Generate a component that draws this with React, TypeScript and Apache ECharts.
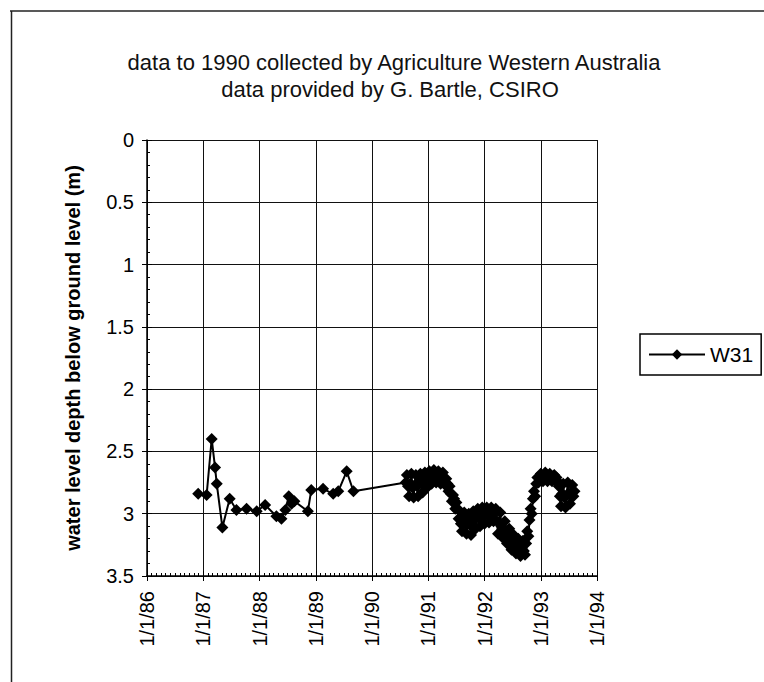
import React, { useEffect, useRef } from "react";
import * as echarts from "echarts";

const titleLine1 = "data to 1990 collected by Agriculture Western Australia";
const titleLine2 = "data provided by G. Bartle, CSIRO";
const yAxisName = "water level depth below ground level (m)";
const seriesName = "W31";

// x axis: decimal years, ticks labelled 1/1/yy
const xMin = 1986;
const xMax = 1994;
const yMin = 0;
const yMax = 3.5;

// manual readings 1986-1990 (decimal year, depth in m)
const manualYears = [
  1986.91, 1987.06, 1987.15, 1987.21, 1987.24, 1987.34, 1987.47, 1987.59,
  1987.77, 1987.95, 1988.1, 1988.3, 1988.39, 1988.46, 1988.52, 1988.57,
  1988.62, 1988.86, 1988.92, 1989.13, 1989.31, 1989.4, 1989.55, 1989.67,
];
const manualDepths = [
  2.84, 2.85, 2.4, 2.63, 2.76, 3.11, 2.88, 2.97,
  2.96, 2.98, 2.93, 3.02, 3.04, 2.97, 2.86, 2.92,
  2.9, 2.98, 2.81, 2.8, 2.84, 2.82, 2.66, 2.82,
];

// frequent readings 1990-1993
const loggerYears = [
  1990.6, 1990.62, 1990.64, 1990.66, 1990.68, 1990.7, 1990.72, 1990.74, 1990.76, 1990.78,
  1990.8, 1990.82, 1990.84, 1990.86, 1990.88, 1990.9, 1990.92, 1990.94, 1990.96, 1990.98,
  1991.0, 1991.02, 1991.04, 1991.06, 1991.08, 1991.1, 1991.12, 1991.14, 1991.16, 1991.18,
  1991.2, 1991.22, 1991.24, 1991.26, 1991.28, 1991.3, 1991.32, 1991.34, 1991.36, 1991.38,
  1991.4, 1991.42, 1991.44, 1991.46, 1991.48, 1991.5, 1991.52, 1991.54, 1991.56, 1991.58,
  1991.6, 1991.62, 1991.64, 1991.66, 1991.68, 1991.7, 1991.72, 1991.74, 1991.76, 1991.78,
  1991.8, 1991.82, 1991.84, 1991.86, 1991.88, 1991.9, 1991.92, 1991.94, 1991.96, 1991.98,
  1992.0, 1992.02, 1992.04, 1992.06, 1992.08, 1992.1, 1992.12, 1992.14, 1992.16, 1992.18,
  1992.2, 1992.22, 1992.24, 1992.26, 1992.28, 1992.3, 1992.32, 1992.34, 1992.36, 1992.38,
  1992.4, 1992.42, 1992.44, 1992.46, 1992.48, 1992.5, 1992.52, 1992.54, 1992.56, 1992.58,
  1992.6, 1992.62, 1992.64, 1992.66, 1992.68, 1992.7, 1992.72, 1992.74, 1992.76, 1992.78,
  1992.8, 1992.82, 1992.84, 1992.86, 1992.88, 1992.9, 1992.92, 1992.94, 1992.96, 1992.98,
  1993.0, 1993.02, 1993.04, 1993.06, 1993.08, 1993.1, 1993.12, 1993.14, 1993.16, 1993.18,
  1993.2, 1993.22, 1993.24, 1993.26, 1993.28, 1993.3, 1993.32, 1993.34, 1993.36, 1993.38,
  1993.4, 1993.42, 1993.44, 1993.46, 1993.48, 1993.5, 1993.52, 1993.54, 1993.56, 1993.58,
  1993.6,
];
const loggerDepths = [
  2.75, 2.69, 2.78, 2.86, 2.76, 2.68, 2.79, 2.87, 2.77, 2.69,
  2.78, 2.86, 2.75, 2.68, 2.76, 2.83, 2.74, 2.67, 2.73, 2.79,
  2.71, 2.66, 2.72, 2.76, 2.7, 2.65, 2.71, 2.75, 2.69, 2.66,
  2.72, 2.76, 2.7, 2.67, 2.73, 2.77, 2.72, 2.76, 2.82, 2.78,
  2.84, 2.9, 2.85, 2.88, 2.96, 2.91, 2.96, 3.04, 2.98, 3.08,
  3.14, 3.04, 2.99, 3.08, 3.16, 3.07, 3.0, 3.09, 3.17, 3.06,
  2.98, 3.05, 3.12, 3.03, 2.96, 3.03, 3.1, 3.02, 2.95, 3.01,
  3.08, 3.01, 2.95, 3.0, 3.07, 3.0, 2.95, 3.01, 3.06, 2.99,
  2.96, 3.06, 3.16, 3.07, 2.99, 3.1, 3.19, 3.12, 3.06, 3.15,
  3.24, 3.17, 3.12, 3.21, 3.29, 3.22, 3.17, 3.25, 3.32, 3.26,
  3.2, 3.28, 3.34, 3.28, 3.22, 3.3, 3.33, 3.24, 3.14, 3.18,
  3.05, 2.96, 3.0, 2.88, 2.82, 2.86, 2.76, 2.71, 2.75, 2.7,
  2.68, 2.72, 2.74, 2.69, 2.67, 2.71, 2.74, 2.7, 2.68, 2.72,
  2.74, 2.7, 2.69, 2.73, 2.71, 2.74, 2.78, 2.86, 2.94, 2.84,
  2.76, 2.87, 2.95, 2.85, 2.75, 2.84, 2.92, 2.83, 2.77, 2.86,
  2.82,
];

const FONT = "'Liberation Sans', Arial, sans-serif";

export default function App() {
  const ref = useRef<HTMLDivElement>(null);

  useEffect(() => {
    if (!ref.current) return;
    const chart = echarts.init(ref.current, null, { renderer: "svg" });

    const years = [...manualYears, ...loggerYears];
    const depths = [...manualDepths, ...loggerDepths];
    const data = years.map((y, i) => [y, depths[i]]);

    const xFmt = (v: number) => `1/1/${String(Math.round(v)).slice(2)}`;

    const option: any = {
      animation: false,
      backgroundColor: "#ffffff",
      textStyle: { fontFamily: FONT, color: "#000" },
      grid: { left: 147, right: 167, top: 140, bottom: 106, containLabel: false },
      graphic: [
        {
          type: "line",
          shape: { x1: 11.5, y1: 11, x2: 11.5, y2: 682 },
          style: { stroke: "#222", lineWidth: 1.5 },
        },
        {
          type: "line",
          shape: { x1: 10, y1: 11, x2: 764, y2: 11 },
          style: { stroke: "#222", lineWidth: 1.5 },
        },
        {
          type: "text",
          x: 394,
          y: 62,
          style: {
            text: titleLine1,
            align: "center",
            verticalAlign: "middle",
            fontSize: 22,
            fontFamily: FONT,
            fill: "#111",
          },
        },
        {
          type: "text",
          x: 390,
          y: 89,
          style: {
            text: titleLine2,
            align: "center",
            verticalAlign: "middle",
            fontSize: 22,
            fontFamily: FONT,
            fill: "#111",
          },
        },
      ],
      legend: {
        data: [seriesName],
        left: 640,
        top: 334,
        orient: "vertical",
        itemWidth: 56,
        itemHeight: 13,
        padding: [10, 8, 10, 8],
        borderColor: "#000",
        borderWidth: 1.5,
        borderRadius: 0,
        textStyle: { fontSize: 21, color: "#000", fontFamily: FONT },
      },
      xAxis: [
        {
          type: "value",
          min: xMin,
          max: xMax,
          interval: 1,
          axisLine: { show: true, onZero: false, lineStyle: { color: "#000", width: 1.5 } },
          axisTick: { show: true, inside: false, length: 5, lineStyle: { color: "#000" } },
          axisLabel: { rotate: 90, fontSize: 20, color: "#000", margin: 15, formatter: xFmt },
          splitLine: { show: true, lineStyle: { color: "#111", width: 1 } },
        },
        {
          type: "value",
          min: xMin,
          max: xMax,
          interval: 1,
          position: "bottom",
          axisLine: { show: false, onZero: false },
          axisTick: { show: true, inside: true, length: 5, lineStyle: { color: "#000" } },
          minorTick: { show: true, splitNumber: 12, length: 3, lineStyle: { color: "#000" } },
          axisLabel: { show: false },
          splitLine: { show: false },
        },
      ],
      yAxis: [
        {
          type: "value",
          inverse: true,
          min: yMin,
          max: yMax,
          interval: 0.5,
          name: yAxisName,
          nameLocation: "middle",
          nameGap: 64,
          nameRotate: 90,
          nameTextStyle: { fontSize: 20, fontWeight: "bold", color: "#000", fontFamily: FONT },
          axisLine: { show: true, onZero: false, lineStyle: { color: "#000", width: 1.5 } },
          axisTick: { show: true, inside: false, length: 5, lineStyle: { color: "#000" } },
          axisLabel: { fontSize: 20, color: "#000", margin: 13 },
          splitLine: { show: true, lineStyle: { color: "#111", width: 1 } },
        },
        {
          type: "value",
          inverse: true,
          min: yMin,
          max: yMax,
          interval: 0.5,
          position: "left",
          axisLine: { show: false, onZero: false },
          axisTick: { show: true, inside: true, length: 5, lineStyle: { color: "#000" } },
          minorTick: { show: true, splitNumber: 5, length: 3, lineStyle: { color: "#000" } },
          axisLabel: { show: false },
          splitLine: { show: false },
        },
      ],
      series: [
        {
          name: seriesName,
          type: "line",
          xAxisIndex: 0,
          yAxisIndex: 0,
          data,
          symbol: "diamond",
          symbolSize: 12,
          showAllSymbol: true,
          lineStyle: { color: "#000", width: 2 },
          itemStyle: { color: "#000" },
          z: 3,
        },
      ],
    };

    chart.setOption(option);
    return () => chart.dispose();
  }, []);

  return (
    <div
      ref={ref}
      style={{ position: "absolute", left: 0, top: 0, width: 764, height: 682 }}
    />
  );
}
